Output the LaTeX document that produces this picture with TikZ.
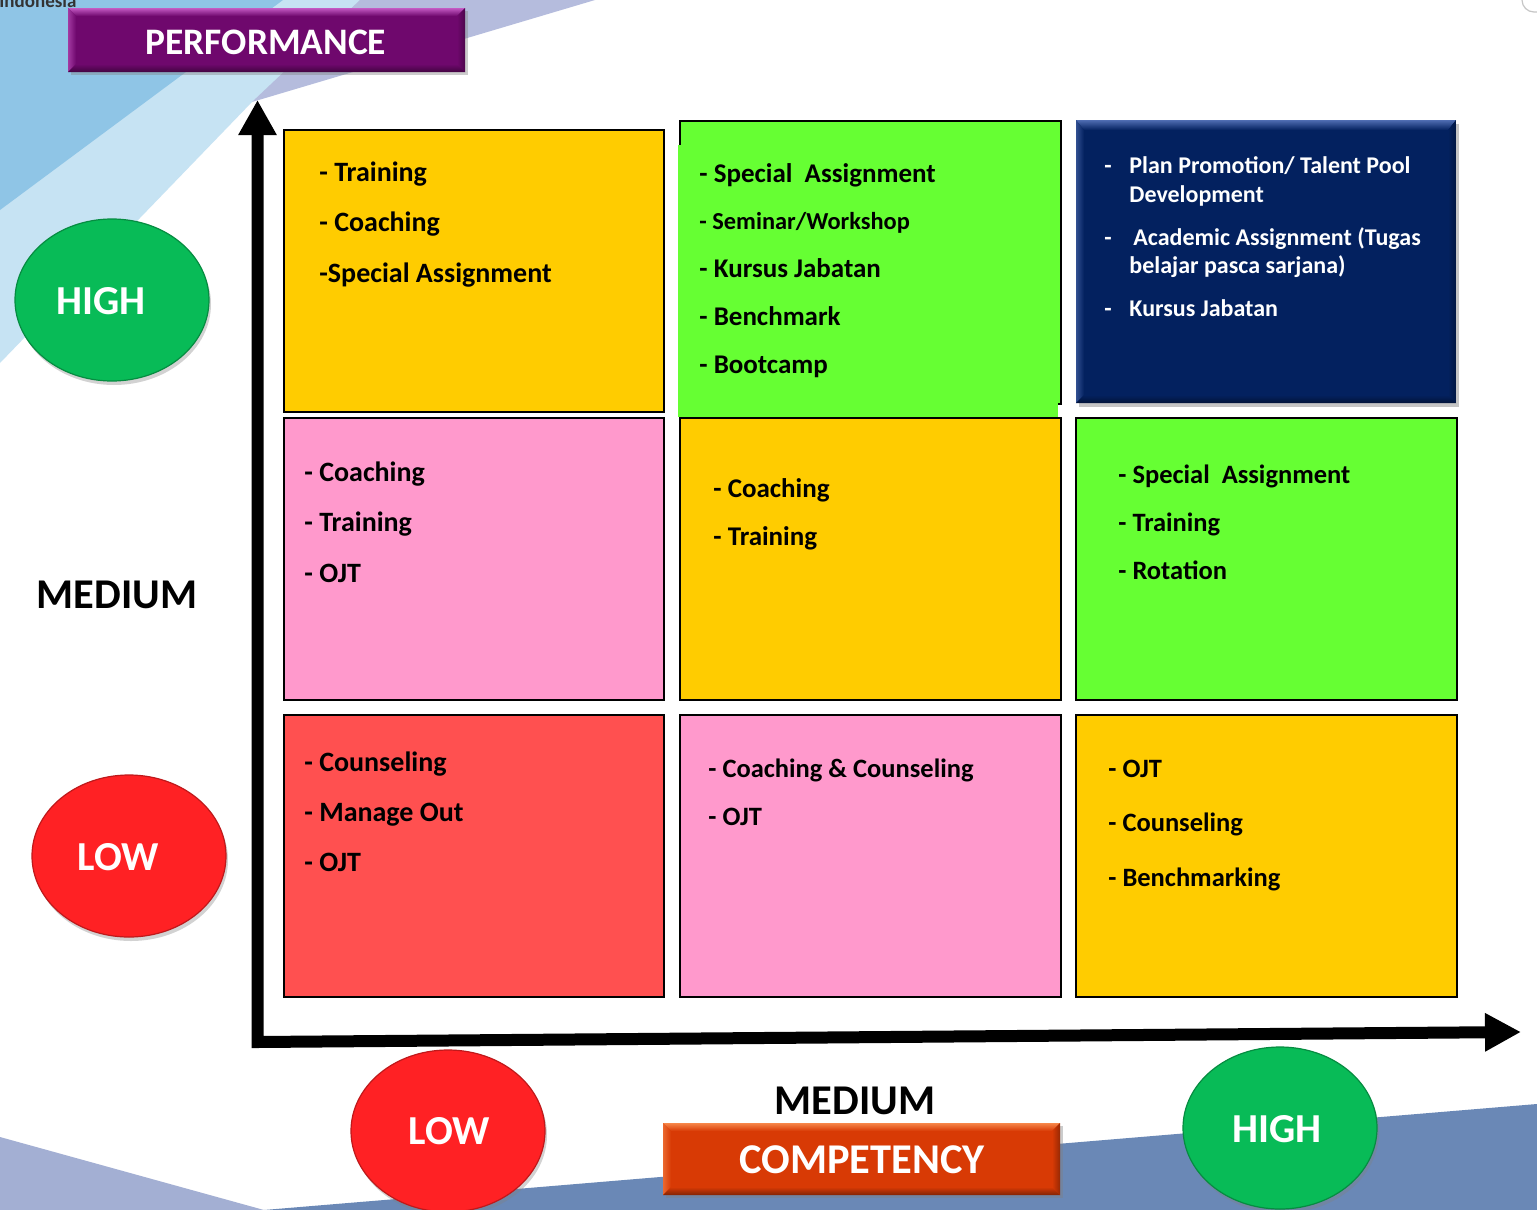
\documentclass[tikz,border=0pt]{standalone}
\usepackage{fontspec}
\setmainfont{Carlito}
\usetikzlibrary{shapes.geometric,arrows.meta,shadows}

\definecolor{bgmid}{HTML}{8FC5E6}
\definecolor{bglight}{HTML}{C6E3F3}
\definecolor{bglav}{HTML}{B5BCDD}
\definecolor{bglav2}{HTML}{A3AFD3}
\definecolor{bgsteel}{HTML}{6A88B6}
\definecolor{cyel}{HTML}{FFCC00}
\definecolor{cgrn}{HTML}{66FF33}
\definecolor{cnavy}{HTML}{03215F}
\definecolor{cnavyhi}{HTML}{4F6DB2}
\definecolor{cpink}{HTML}{FF99CC}
\definecolor{cred}{HTML}{FF5050}
\definecolor{ballg}{HTML}{08BB57}
\definecolor{ballr}{HTML}{FF2124}
\definecolor{perf}{HTML}{6F086D}
\definecolor{perfhi}{HTML}{C45AC4}
\definecolor{comp}{HTML}{D83A05}
\definecolor{comphi}{HTML}{F7874A}

\tikzset{
  cellbox/.style={draw=black, line width=1pt},
  txt/.style={anchor=base west, inner sep=0pt, font=\bfseries\fontsize{#1}{#1}\selectfont},
  wtxt/.style={txt=#1, text=white},
  ball/.style={ellipse, minimum width=97pt, minimum height=81pt, inner sep=0pt,
    draw=#1!75!black, line width=0.6pt, fill=#1,
    drop shadow={shadow xshift=1pt, shadow yshift=-2pt, opacity=0.35}},
  balltxt/.style={inner sep=0pt, text=white, font=\bfseries\fontsize{20.6}{20.6}\selectfont},
  axis/.style={line width=6pt, line join=miter, draw=black,
    {Triangle[length=17.5pt,width=18pt]}-{Triangle[length=18pt,width=18pt]}},
  bigtxt/.style={inner sep=0pt, font=\bfseries\fontsize{21.2}{21.2}\selectfont},
}

\begin{document}
\begin{tikzpicture}[x=0.5pt,y=-0.5pt]
\useasboundingbox (0,0) rectangle (1537,1210);
\fill[white] (0,0) rectangle (1537,1210);

% background swooshes
\fill[bglight] (280,0) -- (372,0) -- (252,102) -- (0,363) -- (0,205) -- cycle;
\fill[bgmid] (0,0) -- (283,0) -- (0,210) -- cycle;
\fill[bglav] (360,0) -- (595,0) -- (252,102) -- cycle;
\fill[bglav2] (0,1137) -- (264,1210) -- (0,1210) -- cycle;
\fill[bgsteel] (264,1210) -- (1537,1104) -- (1537,1210) -- cycle;
\draw[gray!45, line width=0.6pt, rounded corners=6pt] (1522,-20) rectangle (1570,12);
\node[anchor=base west, inner sep=0pt, text=black!80, font=\bfseries\fontsize{9.5}{9.5}\selectfont] (brand) at (-1,8) {Indonesia};

% PERFORMANCE header
\fill[perf, drop shadow={shadow xshift=1.5pt, shadow yshift=-1.5pt, opacity=0.4}] (68,8) rectangle (465,72);
\shade[top color=perfhi, bottom color=perf] (68,8) -- (465,8) -- (457,16) -- (76,16) -- cycle;
\shade[left color=perfhi!60!perf, right color=perf] (68,8) -- (76,16) -- (76,64) -- (68,72) -- cycle;
\shade[left color=perf, right color=perf!70!black] (465,8) -- (457,16) -- (457,64) -- (465,72) -- cycle;
\shade[top color=perf, bottom color=perf!60!black] (68,72) -- (76,64) -- (457,64) -- (465,72) -- cycle;
\node[bigtxt, text=white, font=\bfseries\fontsize{18.7}{18.7}\selectfont] (perfl) at (266,42) {PERFORMANCE};

% row 1
\path[cellbox, fill=cyel] (284,130) rectangle (664,412);
\path[cellbox, fill=cgrn] (680,121) rectangle (1061,404);
\fill[cgrn] (678,145) rectangle (1058,417);
\fill[cnavy, drop shadow={shadow xshift=1.5pt, shadow yshift=-2pt, opacity=0.45}] (1076,120) rectangle (1456,403);
\shade[top color=cnavyhi, bottom color=cnavy] (1076,120) -- (1456,120) -- (1448,130) -- (1084,130) -- cycle;
\shade[left color=cnavyhi!60!cnavy, right color=cnavy] (1076,120) -- (1084,130) -- (1084,395) -- (1076,403) -- cycle;
\shade[left color=cnavy, right color=cnavy!70!black] (1456,120) -- (1448,130) -- (1448,395) -- (1456,403) -- cycle;
\shade[top color=cnavy, bottom color=cnavy!60!black] (1076,403) -- (1084,395) -- (1448,395) -- (1456,403) -- cycle;

% row 2
\path[cellbox, fill=cpink] (284,418) rectangle (664,700);
\path[cellbox, fill=cyel] (680,418) rectangle (1061,700);
\path[cellbox, fill=cgrn] (1076,418) rectangle (1457,700);

% row 3
\path[cellbox, fill=cred] (284,715) rectangle (664,997);
\path[cellbox, fill=cpink] (680,715) rectangle (1061,997);
\path[cellbox, fill=cyel] (1076,715) rectangle (1457,997);

% axes
\coordinate (ytip) at (257.5,100);
\coordinate (orig) at (257.5,1042);
\coordinate (xtip) at (1521,1032);
\draw[axis] (ytip) -- (orig) -- (xtip);

% cell texts: high performance row
\node[txt=14] (a1) at (319,181) {- Training};
\node[txt=14] (a2) at (319,231) {- Coaching};
\node[txt=14] (a3) at (319,282) {-Special Assignment};

\node[txt=13.5] (b1) at (699,182) {- Special\ \ Assignment};
\node[txt=12.2] (b2) at (699,229) {- Seminar/Workshop};
\node[txt=13.5] (b3) at (699,277) {- Kursus Jabatan};
\node[txt=13.5] (b4) at (699,325) {- Benchmark};
\node[txt=13.5] (b5) at (699,373) {- Bootcamp};

\node[wtxt=12] (c1d) at (1104,173) {-};
\node[wtxt=12] (c1) at (1129,173) {Plan Promotion/ Talent Pool};
\node[wtxt=12] (c1b) at (1129,202) {Development};
\node[wtxt=12] (c2d) at (1104,245) {-};
\node[wtxt=12] (c2) at (1133,245) {Academic Assignment (Tugas};
\node[wtxt=12] (c2b) at (1129,273) {belajar pasca sarjana)};
\node[wtxt=12] (c3d) at (1104,316) {-};
\node[wtxt=12] (c3) at (1129,316) {Kursus Jabatan};

% medium performance row
\node[txt=14] (d1) at (304,481) {- Coaching};
\node[txt=14] (d2) at (304,531) {- Training};
\node[txt=14] (d3) at (304,582) {- OJT};

\node[txt=13.5] (e1) at (713,497) {- Coaching};
\node[txt=13.5] (e2) at (713,545) {- Training};

\node[txt=13.25] (f1) at (1118,483) {- Special\ \ Assignment};
\node[txt=13.25] (f2) at (1118,531) {- Training};
\node[txt=13.25] (f3) at (1118,579) {- Rotation};

% low performance row
\node[txt=14] (g1) at (304,771) {- Counseling};
\node[txt=14] (g2) at (304,821) {- Manage Out};
\node[txt=14] (g3) at (304,871) {- OJT};

\node[txt=13.25] (h1) at (708,777) {- Coaching \& Counseling};
\node[txt=13.25] (h2) at (708,825) {- OJT};

\node[txt=13.25] (i1) at (1108,777) {- OJT};
\node[txt=13.25] (i2) at (1108,831) {- Counseling};
\node[txt=13.25] (i3) at (1108,886) {- Benchmarking};

% performance levels
\node[ball=ballg] (phigh) at (112,300) {};
\node[balltxt] (phight) at (101,301) {HIGH};
\node[bigtxt] (pmed) at (117,595) {MEDIUM};
\node[ball=ballr] (plow) at (129,856) {};
\node[balltxt] (plowt) at (118,857) {LOW};

% competency levels
\node[ball=ballr] (clow) at (448,1131) {};
\node[balltxt] (clowt) at (449,1131) {LOW};
\node[bigtxt] (cmed) at (855,1101) {MEDIUM};
\node[ball=ballg] (chigh) at (1280,1128) {};
\node[balltxt] (chight) at (1277,1129) {HIGH};

% COMPETENCY footer
\fill[comp, drop shadow={shadow xshift=1.5pt, shadow yshift=-1.5pt, opacity=0.4}] (663,1123) rectangle (1060,1195);
\shade[top color=comphi, bottom color=comp] (663,1123) -- (1060,1123) -- (1052,1131) -- (671,1131) -- cycle;
\shade[left color=comphi!60!comp, right color=comp] (663,1123) -- (671,1131) -- (671,1187) -- (663,1195) -- cycle;
\shade[left color=comp, right color=comp!70!black] (1060,1123) -- (1052,1131) -- (1052,1187) -- (1060,1195) -- cycle;
\shade[top color=comp, bottom color=comp!60!black] (663,1195) -- (671,1187) -- (1052,1187) -- (1060,1195) -- cycle;
\node[bigtxt, text=white] (compl) at (862,1160) {COMPETENCY};
\end{tikzpicture}
\end{document}
